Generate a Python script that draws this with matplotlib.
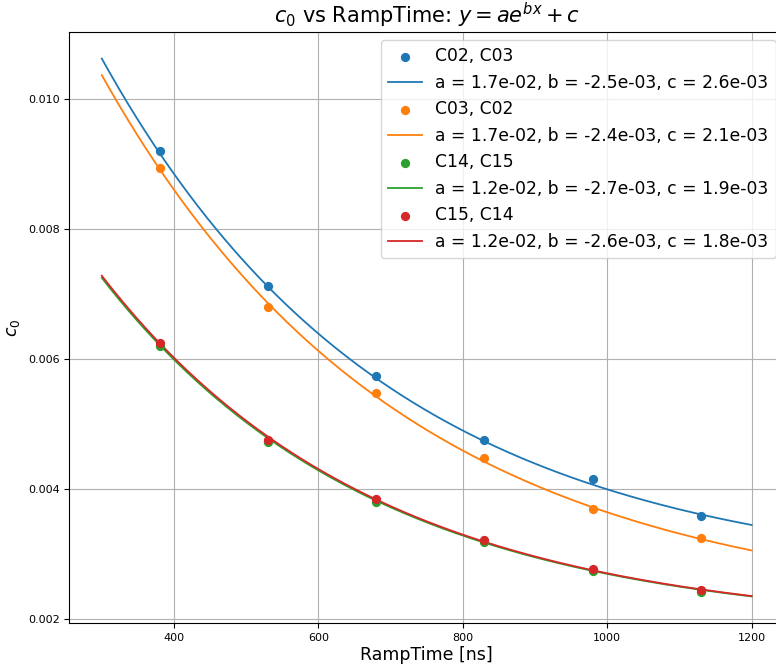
import numpy as np
import matplotlib

matplotlib.use("Agg")
import matplotlib.pyplot as plt

# ramp times of the measured points [ns]
ramp_time = [380, 530, 680, 830, 980, 1130]

labels = ["C02, C03", "C03, C02", "C14, C15", "C15, C14"]
c0_c02_c03 = [0.00920, 0.00712, 0.00574, 0.00476, 0.00415, 0.00359]
c0_c03_c02 = [0.00895, 0.00680, 0.00548, 0.00448, 0.00369, 0.00324]
c0_c14_c15 = [0.00620, 0.00472, 0.00380, 0.00318, 0.00274, 0.00241]
c0_c15_c14 = [0.00625, 0.00476, 0.00385, 0.00322, 0.00277, 0.00244]

# fitted parameters of y = a*exp(b*x) + c (legend shows them rounded)
fit_a = [1.70e-02, 1.70e-02, 1.198e-02, 1.202e-02]
fit_b = [-2.50e-03, -2.40e-03, -2.655e-03, -2.645e-03]
fit_c = [2.60e-03, 2.10e-03, 1.851e-03, 1.849e-03]
fit_range = (300, 1200)

colors = ["#1f77b4", "#ff7f0e", "#2ca02c", "#d62728"]


def model(x, a, b, c):
    return a * np.exp(b * x) + c


def main():
    fig = plt.figure(figsize=(7.76, 6.64), dpi=100)
    ax = fig.add_axes([0.0893, 0.0613, 0.9211, 0.891])

    series = [c0_c02_c03, c0_c03_c02, c0_c14_c15, c0_c15_c14]
    xf = np.linspace(*fit_range, 300)
    for lab, y, a, b, c, col in zip(labels, series, fit_a, fit_b, fit_c, colors):
        ax.scatter(ramp_time, y, s=32, color=col, label=lab, zorder=3)
        ax.plot(xf, model(xf, a, b, c), color=col, lw=1.3,
                label=f"a = {a:.1e}, b = {b:.1e}, c = {c:.1e}")

    ax.grid(True)
    ax.set_axisbelow(True)
    ax.tick_params(labelsize=8)
    ax.set_xlabel("RampTime [ns]", fontsize=12.5, labelpad=2)
    ax.set_ylabel("$c_0$", fontsize=12.5)
    ax.set_title("$c_0$ vs RampTime: $y = ae^{bx} + c$", fontsize=15)
    ax.legend(loc="upper right", fontsize=12.3)

    fig.savefig("out.png", dpi=100)


if __name__ == "__main__":
    main()
